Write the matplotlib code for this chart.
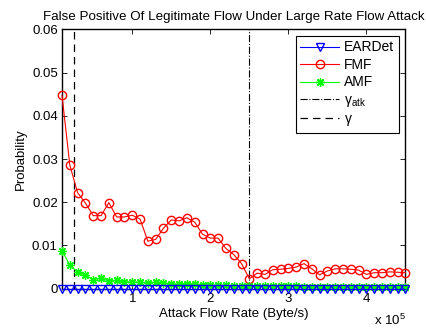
import numpy as np
import matplotlib
matplotlib.use("Agg")
import matplotlib.pyplot as plt
from matplotlib.ticker import FixedLocator, FixedFormatter

plt.rcParams['font.family'] = ['Liberation Sans', 'DejaVu Sans']
plt.rcParams['mathtext.fontset'] = 'custom'
plt.rcParams['mathtext.rm'] = 'Liberation Sans'
plt.rcParams['mathtext.it'] = 'Liberation Sans'

# Attack flow rate (Byte/s): 1e4 .. 4.5e5 in 1e4 steps
rates = [1e4 * k for k in range(1, 46)]

eardet = [0.0] * 45

fmf = [0.0447, 0.0286, 0.0222, 0.0198, 0.0169, 0.0169, 0.0199, 0.0166, 0.0166, 0.0170,
       0.0161, 0.0110, 0.0114, 0.0140, 0.0159, 0.0157, 0.0164, 0.0154, 0.0126, 0.0117,
       0.0117, 0.0093, 0.0079, 0.0058, 0.0023, 0.0036, 0.0033, 0.0044, 0.0045, 0.0047,
       0.0050, 0.0058, 0.0046, 0.0032, 0.0041, 0.0046, 0.0046, 0.0045, 0.0043, 0.0033,
       0.0037, 0.0037, 0.0039, 0.0038, 0.0037]

amf = [0.0088, 0.0055, 0.0038, 0.0031, 0.0021, 0.0024, 0.0018, 0.0019, 0.0016, 0.0015,
       0.0015, 0.0013, 0.0015, 0.0014, 0.0011, 0.0011, 0.0012, 0.0011, 0.0009, 0.0008,
       0.0008, 0.0008, 0.0007, 0.0007, 0.0007, 0.0006, 0.0006, 0.0006, 0.0006, 0.0006,
       0.0006, 0.0005, 0.0005, 0.0005, 0.0005, 0.0005, 0.0005, 0.0005, 0.0005, 0.0005,
       0.0005, 0.0005, 0.0005, 0.0005, 0.0005]

gamma_atk = 2.5e5
gamma = 2.5e4

x_ticks = [1e5, 2e5, 3e5, 4e5]
x_ticklabels = ['1', '2', '3', '4']
y_ticks = [0, 0.01, 0.02, 0.03, 0.04, 0.05, 0.06]
y_ticklabels = ['0', '0.01', '0.02', '0.03', '0.04', '0.05', '0.06']

fig = plt.figure(figsize=(4.27, 3.35), dpi=100)
ax = fig.add_axes([0.1452, 0.1382, 0.9496 - 0.1452, 0.9125 - 0.1382])

ax.plot(rates, eardet, color='#0000ff', marker='v', mfc='none', mec='#0000ff',
        ms=5.5, lw=0.8, clip_on=False, label='EARDet', zorder=4)
ax.plot(rates, fmf, color='#ff0000', marker='o', mfc='none', mec='#ff0000',
        ms=6, lw=0.8, clip_on=False, label='FMF', zorder=3)
ax.plot(rates, amf, color='#00ff00', marker=(8, 2, 0), mfc='#00ff00', mec='#00ff00',
        mew=1.0, ms=6, lw=0.8, clip_on=False, label='AMF', zorder=3)
ax.axvline(gamma_atk, color='black', ls='-.', lw=0.8, label=r'$\mathrm{\gamma_{atk}}$')
ax.axvline(gamma, color='black', ls=(0, (6, 4)), lw=0.9, label=r'$\mathrm{\gamma}$')

ax.set_xlim(1e4, 4.5e5)
ax.set_ylim(0, 0.06)
ax.xaxis.set_major_locator(FixedLocator(x_ticks))
ax.xaxis.set_major_formatter(FixedFormatter(x_ticklabels))
ax.yaxis.set_major_locator(FixedLocator(y_ticks))
ax.yaxis.set_major_formatter(FixedFormatter(y_ticklabels))
ax.tick_params(direction='in', top=True, right=True, length=3.5, width=0.6,
               labelsize=9.5, pad=3)
for s in ax.spines.values():
    s.set_linewidth(1.0)

ax.set_title('False Positive Of Legitimate Flow Under Large Rate Flow Attack',
             fontsize=9.6, pad=7)
ax.set_xlabel('Attack Flow Rate (Byte/s)', fontsize=9.5, labelpad=2)
ax.set_ylabel('Probability', fontsize=9.5, labelpad=4)
fig.text(0.876, 0.022, r'x 10$^{5}$', fontsize=9.5, ha='left', va='bottom')

leg = ax.legend(loc='upper right', fontsize=10, frameon=True, fancybox=False,
                edgecolor='black', framealpha=1, borderpad=0.35, labelspacing=0.25,
                handlelength=2.8, handletextpad=0.35, borderaxespad=0.45)
leg.get_frame().set_linewidth(0.8)

fig.savefig('out.png', dpi=100)
